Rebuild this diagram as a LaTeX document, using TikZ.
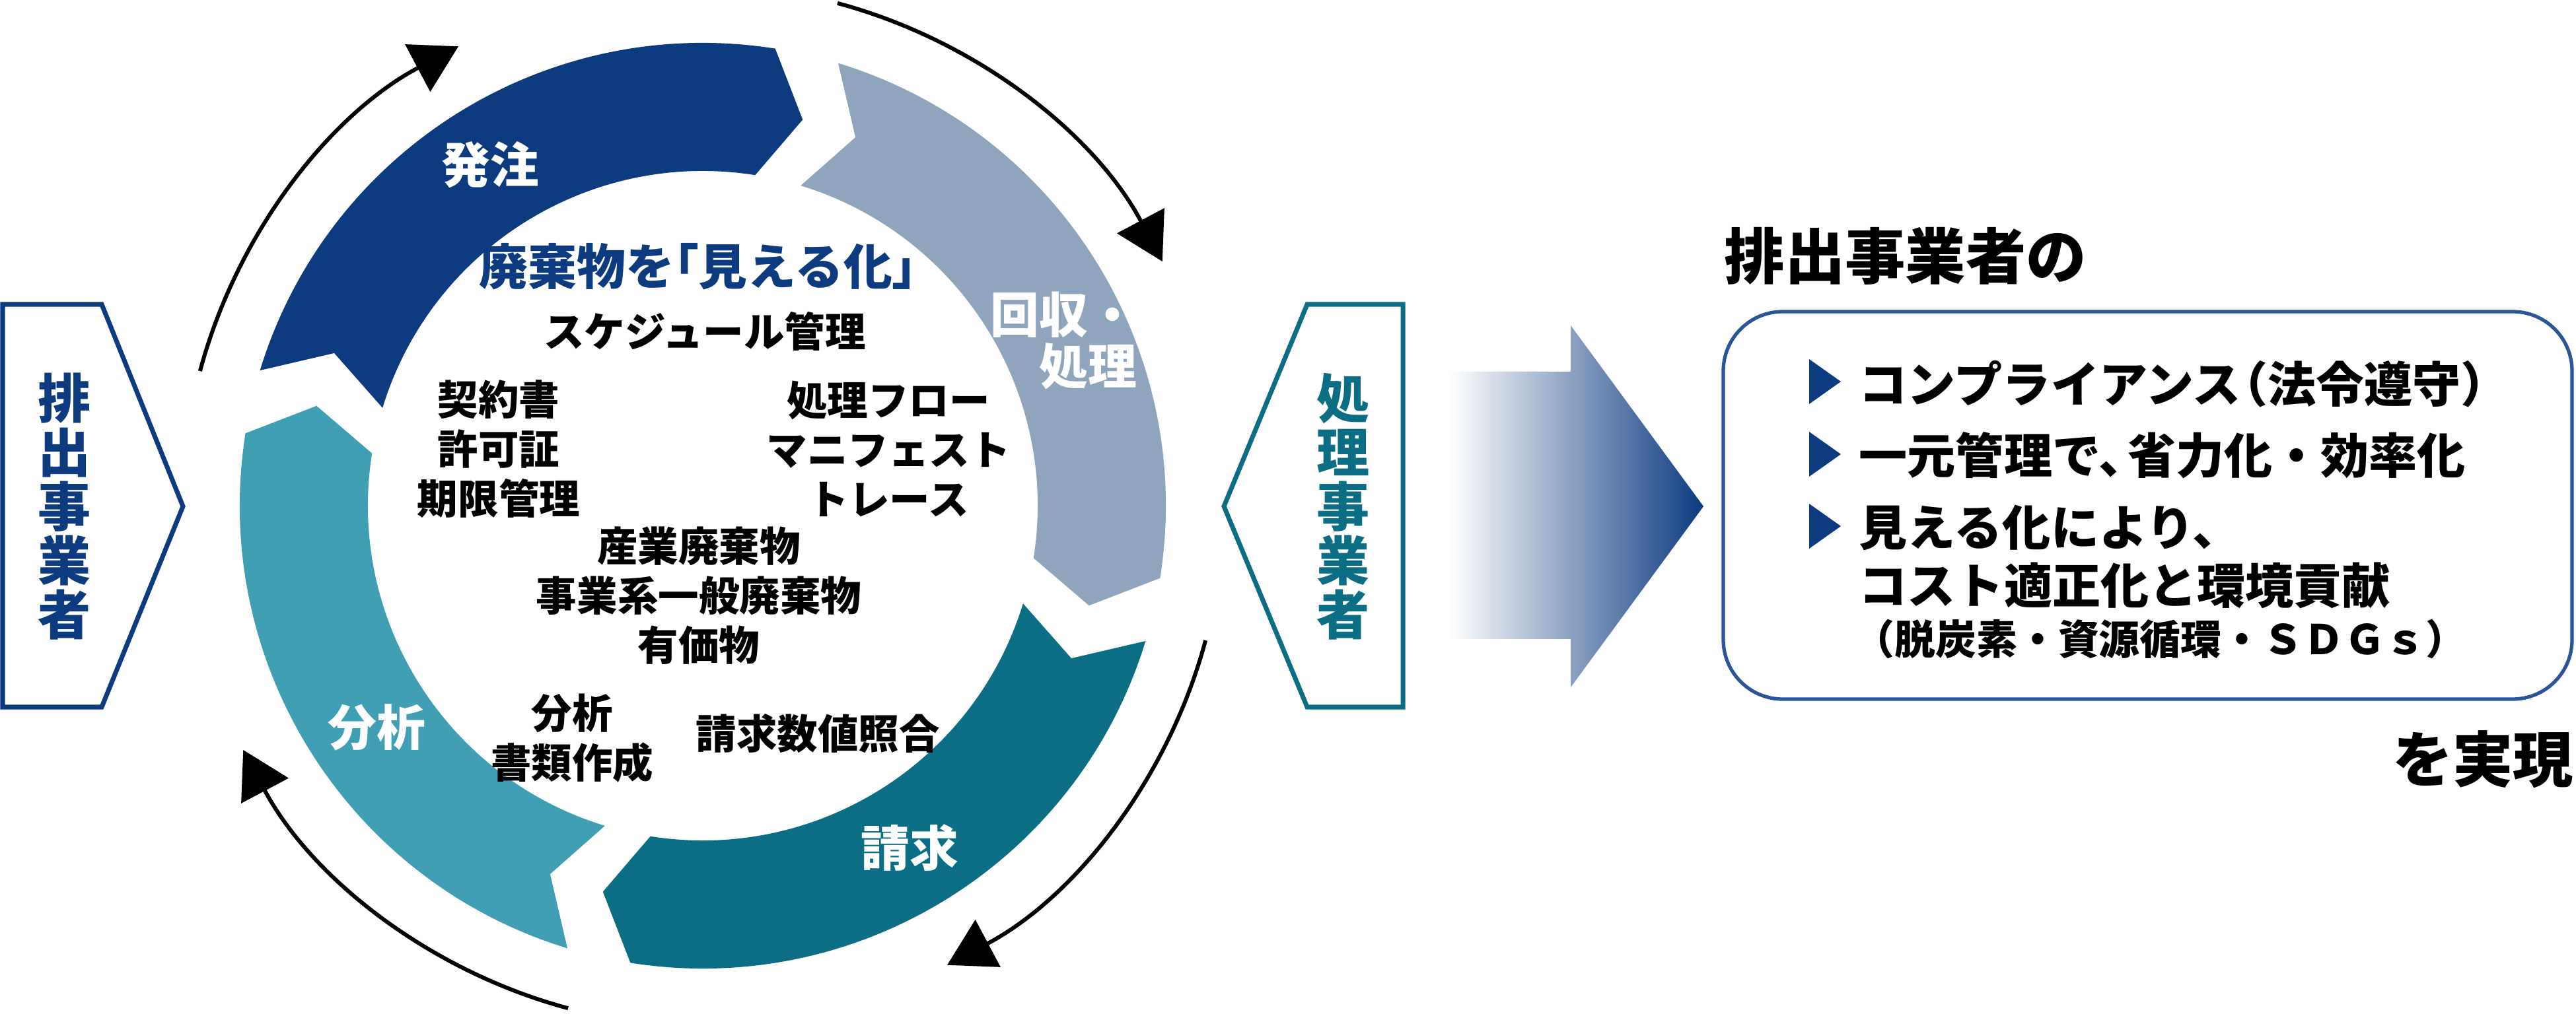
\documentclass[tikz,border=0pt]{standalone}
\usepackage{fontspec}
\setmainfont{Noto Sans CJK JP}
\usetikzlibrary{shapes,arrows,arrows.meta}

\definecolor{navy}{RGB}{12,59,128}
\definecolor{steel}{RGB}{143,165,189}
\definecolor{tealdk}{RGB}{11,110,133}
\definecolor{aqua}{RGB}{64,159,181}
\definecolor{boxblue}{RGB}{43,85,151}
\definecolor{lavender}{RGB}{102,104,160}

\tikzstyle{seglabel} = [text=white, align=right, font=\bfseries\fontsize{21}{22.2}\selectfont, inner sep=0pt]
\tikzstyle{info} = [align=center, font=\bfseries\fontsize{17.5}{21.3}\selectfont, inner sep=0pt]
\tikzstyle{actor} = [align=center, font=\bfseries\fontsize{22.8}{23.3}\selectfont, inner sep=0pt]
\tikzstyle{goal} = [anchor=west, font=\bfseries\fontsize{20.8}{24}\selectfont, inner sep=0pt]
\tikzstyle{headline} = [font=\bfseries\fontsize{26}{30}\selectfont, inner sep=0pt]
\tikzstyle{cycarrow} = [draw, line width=1.7pt, -{Triangle[length=7mm,width=8mm]}]

\begin{document}
\begin{tikzpicture}
  \useasboundingbox (0,0) rectangle (39,15.44);

  % cycle ring and the arrows round it
  \begin{scope}[shift={(10.64,7.78)}]
    \foreach \s/\c in {163/navy, 73/steel, -17/tealdk, -107/aqua}
      \fill[\c] (\s:7.01) arc[start angle=\s, end angle=\s-82, radius=7.01]
        -- ({\s-87.5}:6.04) -- ({\s-82}:5.07)
        arc[start angle=\s-82, end angle=\s, radius=5.07]
        -- ({\s-5.5}:6.04) -- cycle;
    \foreach \s in {163,73,-17,-107}
      \path [cycarrow] ({\s+2}:7.88) arc[start angle=\s+2, end angle=\s-45, radius=7.88];
  \end{scope}

  \node [seglabel] (order) at (7.42,12.94) {発注};
  \node [seglabel, anchor=east] (collect) at (17.22,10.28) {回収・\\処理};
  \node [seglabel] (bill) at (13.77,2.60) {請求};
  \node [seglabel] (analysis) at (5.70,4.42) {分析};

  \node [info, anchor=west, text=navy, font=\bfseries\fontsize{21}{24}\selectfont] (visual) at (7.25,11.40) {廃棄物を\hspace{-0.5em}「見える化」};
  \node [info] (schedule) at (10.67,10.42) {スケジュール管理};
  \node [info] (contract) at (7.55,8.64) {契約書\\許可証\\期限管理};
  \node [info] (flow) at (13.45,8.64) {処理フロー\\マニフェスト\\トレース};
  \node [info] (waste) at (10.58,6.42) {産業廃棄物\\事業系一般廃棄物\\有価物};
  \node [info] (docs) at (8.66,4.26) {分析\\書類作成};
  \node [info] (check) at (12.38,4.33) {請求数値照合};

  % the two parties
  \draw [navy, line width=2pt] (0.04,10.83) -- (1.54,10.83) -- (2.77,7.77) -- (1.54,4.73) -- (0.04,4.73) -- cycle;
  \node [actor, text=navy] (emitter) at (0.98,7.77) {排\\出\\事\\業\\者};
  \draw [tealdk, line width=2pt] (21.24,10.83) -- (19.79,10.83) -- (18.53,7.77) -- (19.79,4.73) -- (21.24,4.73) -- cycle;
  \node [actor, text=tealdk] (processor) at (20.34,7.77) {処\\理\\事\\業\\者};

  % big arrow
  \shade [left color=white, middle color=lavender, right color=navy]
    (21.95,9.81) -- (23.78,9.81) -- (23.78,10.51) -- (25.79,7.77) -- (23.78,5.03) -- (23.78,5.76) -- (21.95,5.76) -- cycle;

  % result box
  \node [headline, anchor=west] (title) at (26.10,11.56) {排出事業者の};
  \draw [boxblue, line width=1.5pt, rounded corners=0.9cm] (26.09,4.85) rectangle (38.94,10.72);
  \foreach \y in {9.66,8.56,7.47}
    \fill[navy] (27.39,\y+0.34) -- (27.87,\y) -- (27.39,\y-0.34) -- cycle;
  \node [goal] (comply) at (28.14,9.62) {コンプライアンス\hspace{-0.45em}（法令遵守）};
  \node [goal] (unify) at (28.14,8.54) {一元管理で、\hspace{-0.4em}省力化・効率化};
  \node [goal] (seeing) at (28.14,7.45) {見える化により、};
  \node [goal] (cost) at (28.14,6.57) {コスト適正化と環境貢献};
  \node [goal, font=\bfseries\fontsize{17.6}{20}\selectfont] (sdgs) at (28.06,5.76) {（脱炭素・資源循環・ＳＤＧｓ）};
  \node [headline, anchor=east] (realize) at (38.97,3.94) {を実現};
\end{tikzpicture}
\end{document}
